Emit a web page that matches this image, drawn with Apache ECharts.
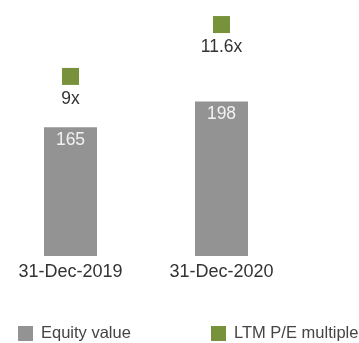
<!DOCTYPE html>
<html>
<head>
<meta charset="utf-8">
<script src="https://cdn.jsdelivr.net/npm/echarts@6/dist/echarts.min.js"></script>
<style>
  html, body { margin: 0; padding: 0; background: #fff; }
  #chart { width: 359px; height: 343px; }
</style>
</head>
<body>
<div id="chart"></div>
<script>
// Valuation snapshot: equity value (bars) and LTM P/E multiple (markers)
const categories = ['31-Dec-2019', '31-Dec-2020'];
const equityValue = [165, 198];
const peMultiple = [9, 11.6];
const seriesNames = ['Equity value', 'LTM P/E multiple'];

const FONT = '"Liberation Sans", Arial, Helvetica, sans-serif';
const GREY = '#939393';
const GREEN = '#77923b';

const legendBase = {
  top: 320,
  icon: 'rect',
  itemWidth: 15,
  itemHeight: 15,
  width: 400,
  textStyle: { fontFamily: FONT, fontSize: 16.5, color: '#444', padding: [0, 0, 0, 3] }
};

const chart = echarts.init(document.getElementById('chart'), null, { renderer: 'canvas' });
chart.setOption({
  animation: false,
  textStyle: { fontFamily: FONT },
  grid: { left: -5, right: 62, top: 0, bottom: 87, containLabel: false, outerBoundsMode: 'none' },
  legend: [
    Object.assign({}, legendBase, { data: [seriesNames[0]], left: 13 }),
    Object.assign({}, legendBase, { data: [seriesNames[1]], left: 206 })
  ],
  xAxis: {
    type: 'category',
    data: categories,
    axisLine: { show: false },
    axisTick: { show: false },
    axisLabel: { fontFamily: FONT, fontSize: 18, color: '#333', margin: 7 }
  },
  yAxis: [
    { type: 'value', min: 0, max: 328, show: false, splitLine: { show: false } },
    { type: 'value', min: 0, max: 12.83, show: false, splitLine: { show: false } }
  ],
  series: [
    {
      name: seriesNames[0],
      type: 'bar',
      data: equityValue,
      barWidth: 53,
      itemStyle: { color: GREY },
      label: {
        show: true,
        position: 'insideTop',
        distance: 4,
        fontFamily: FONT,
        fontSize: 17.5,
        color: '#f2f2f2'
      }
    },
    {
      name: seriesNames[1],
      type: 'scatter',
      yAxisIndex: 1,
      data: peMultiple,
      symbol: 'rect',
      symbolSize: 17,
      itemStyle: { color: GREEN, opacity: 1 },
      label: {
        show: true,
        position: 'bottom',
        distance: 5,
        fontFamily: FONT,
        fontSize: 17.5,
        color: '#333',
        formatter: p => p.value + 'x'
      }
    }
  ]
});
</script>
</body>
</html>
